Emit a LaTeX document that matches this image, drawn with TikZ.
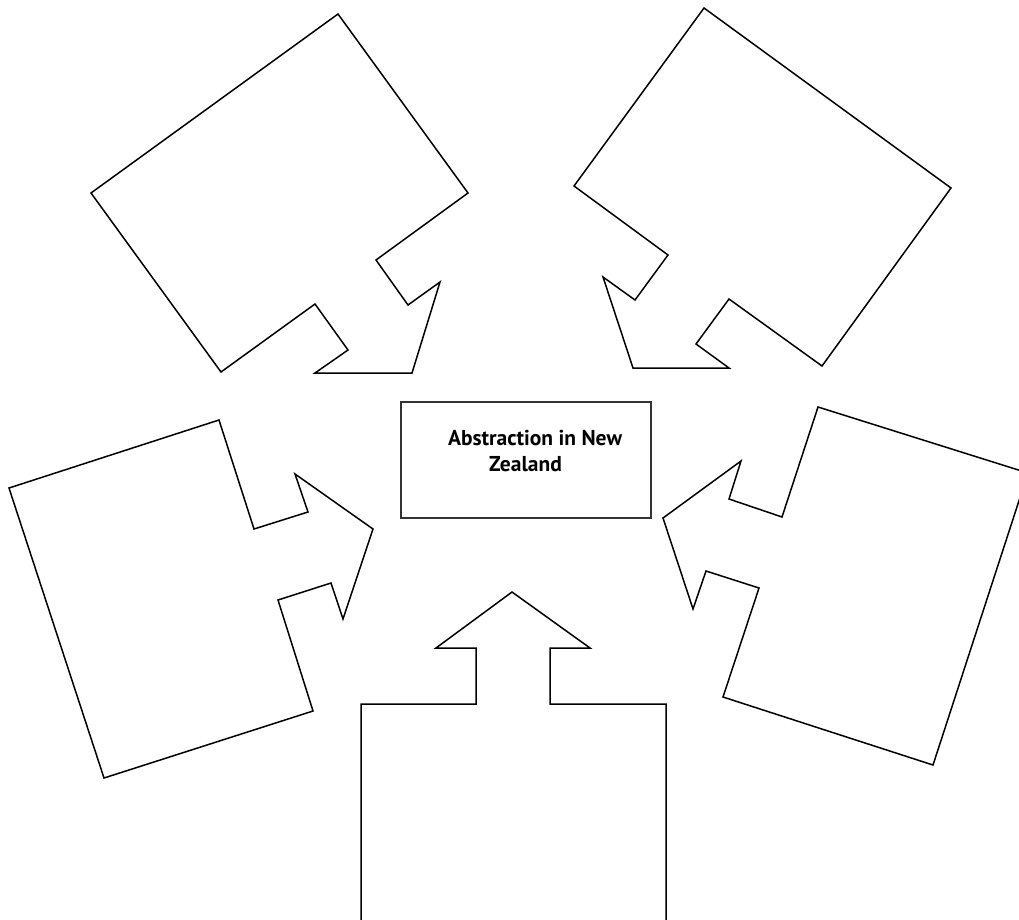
\documentclass[tikz,border=0pt]{standalone}
\usepackage{fontspec}
\setmainfont{PT Sans}
\begin{document}
\begin{tikzpicture}[x=1pt,y=-1pt,
  callout/.style={draw=black,line width=1.5pt,line join=miter},
  centerbox/.style={draw=black!80,line width=1.5pt,minimum width=250pt,minimum height=116pt,inner sep=0pt},
  title/.style={font=\bfseries\fontsize{21.5}{26}\selectfont,inner sep=0pt,anchor=base}]
\useasboundingbox (0,0) rectangle (1019,919);
\clip (0,0) rectangle (1019,919);
% centre box
\node[centerbox] (centre) at (526,460) {};
\node[title] (t1) at (535,445) {Abstraction in New};
\node[title] (t2) at (525.5,471) {Zealand};
% top-left callout
\draw[callout] (338,14) -- (468,193) -- (376,260) -- (408,305) -- (440,282) -- (412,373)
  -- (315,373) -- (348,350) -- (315,304) -- (221,372) -- (91,193) -- cycle;
% top-right callout
\draw[callout] (704,8) -- (951,188) -- (822,366) -- (729,299) -- (696,344) -- (729,368)
  -- (633,368) -- (603,277) -- (635,300) -- (668,255) -- (574,186) -- cycle;
% left callout
\draw[callout] (9,488) -- (219,420) -- (254,529) -- (308,512) -- (295,474) -- (373,529)
  -- (343,619) -- (331,583) -- (278,600) -- (313,711) -- (104,778) -- cycle;
% right callout
\draw[callout] (818,407) -- (1028,473) -- (933,765) -- (723,697) -- (759,588) -- (706,571)
  -- (693,609) -- (663,518) -- (741,461) -- (729,499) -- (782,517) -- cycle;
% bottom callout
\draw[callout] (361,935) -- (361,704) -- (476,704) -- (476,648) -- (436,648) -- (512,592)
  -- (590,648) -- (550,648) -- (550,704) -- (666,704) -- (666,935);
\end{tikzpicture}
\end{document}
